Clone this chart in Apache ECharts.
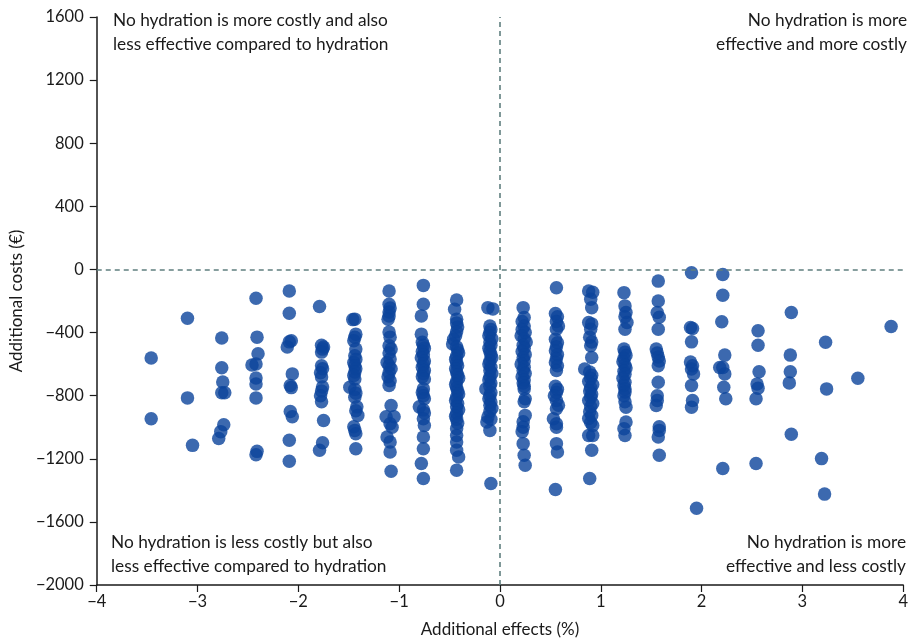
<!DOCTYPE html>
<html>
<head>
<meta charset="utf-8">
<script src="https://cdn.jsdelivr.net/npm/echarts@6/dist/echarts.min.js"></script>
<style>
html,body{margin:0;padding:0;background:#fff;}
#chart{width:911px;height:643px;}
</style>
</head>
<body>
<div id="chart"></div>
<script>
// Axis ticks
const xTicks = [-4, -3, -2, -1, 0, 1, 2, 3, 4];
const yTicks = [-2000, -1600, -1200, -800, -400, 0, 400, 800, 1200, 1600];

// Simulation points, grouped by column: [additional effect (%), additional cost (€)]
const col01 = [[-3.46,-561],[-3.46,-946]];
const col02 = [[-3.10,-309],[-3.10,-814],[-3.05,-1115]];
const col03 = [[-2.76,-435],[-2.76,-623],[-2.75,-714],[-2.76,-782],[-2.73,-782],[-2.74,-984],[-2.77,-1028],[-2.79,-1072]];
const col04 = [[-2.42,-183],[-2.41,-429],[-2.40,-534],[-2.42,-599],[-2.46,-605],[-2.42,-688],[-2.42,-726],[-2.42,-814],[-2.41,-1153],[-2.42,-1174]];
const col05 = [[-2.09,-137],[-2.09,-278],[-2.09,-459],[-2.07,-452],[-2.11,-492],[-2.06,-662],[-2.08,-736],[-2.07,-749],[-2.08,-900],[-2.06,-934],[-2.09,-1083],[-2.09,-1216]];
const col06 = [[-1.79,-235],[-1.77,-480],[-1.75,-492],[-1.76,-505],[-1.77,-524],[-1.77,-610],[-1.76,-630],[-1.78,-655],[-1.77,-681],[-1.76,-745],[-1.77,-770],[-1.78,-800],[-1.77,-839],[-1.75,-957],[-1.76,-1098],[-1.79,-1146]];
const col07 = [[-1.44,-315],[-1.46,-318],[-1.43,-410],[-1.44,-430],[-1.45,-452],[-1.43,-505],[-1.44,-547],[-1.43,-570],[-1.45,-590],[-1.44,-610],[-1.43,-630],[-1.44,-650],[-1.45,-672],[-1.44,-694],[-1.49,-747],[-1.44,-760],[-1.43,-785],[-1.44,-810],[-1.42,-871],[-1.43,-895],[-1.41,-925],[-1.45,-997],[-1.44,-1020],[-1.43,-1041],[-1.43,-1136]];
const col08 = [[-1.10,-137],[-1.10,-221],[-1.09,-245],[-1.10,-270],[-1.10,-295],[-1.11,-315],[-1.10,-397],[-1.09,-429],[-1.10,-484],[-1.08,-505],[-1.10,-530],[-1.09,-568],[-1.12,-590],[-1.10,-610],[-1.08,-630],[-1.10,-655],[-1.11,-680],[-1.09,-705],[-1.10,-736],[-1.08,-862],[-1.13,-934],[-1.05,-934],[-1.09,-978],[-1.07,-1000],[-1.12,-1062],[-1.09,-1094],[-1.09,-1157],[-1.08,-1279]];
const col09 = [[-0.76,-101],[-0.76,-221],[-0.78,-295],[-0.78,-410],[-0.77,-461],[-0.76,-480],[-0.75,-500],[-0.77,-520],[-0.76,-540],[-0.78,-560],[-0.75,-580],[-0.76,-600],[-0.77,-620],[-0.75,-640],[-0.76,-660],[-0.77,-680],[-0.75,-694],[-0.76,-757],[-0.77,-780],[-0.76,-800],[-0.75,-820],[-0.80,-871],[-0.76,-890],[-0.75,-910],[-0.76,-946],[-0.75,-989],[-0.76,-1062],[-0.76,-1136],[-0.78,-1230],[-0.76,-1325]];
const col10 = [[-0.43,-194],[-0.45,-252],[-0.43,-315],[-0.43,-340],[-0.42,-365],[-0.43,-395],[-0.44,-421],[-0.46,-442],[-0.47,-473],[-0.43,-490],[-0.42,-510],[-0.41,-530],[-0.43,-550],[-0.44,-570],[-0.43,-590],[-0.42,-610],[-0.44,-630],[-0.43,-650],[-0.42,-670],[-0.41,-690],[-0.43,-710],[-0.44,-730],[-0.43,-750],[-0.42,-770],[-0.41,-790],[-0.43,-810],[-0.44,-830],[-0.42,-850],[-0.43,-870],[-0.41,-890],[-0.43,-910],[-0.44,-930],[-0.43,-950],[-0.42,-975],[-0.43,-1009],[-0.43,-1052],[-0.43,-1094],[-0.43,-1146],[-0.41,-1188],[-0.43,-1272]];
const col11 = [[-0.12,-242],[-0.07,-250],[-0.10,-358],[-0.09,-380],[-0.10,-400],[-0.11,-420],[-0.08,-440],[-0.10,-460],[-0.09,-480],[-0.11,-500],[-0.10,-520],[-0.09,-540],[-0.08,-560],[-0.10,-580],[-0.11,-600],[-0.09,-620],[-0.10,-640],[-0.08,-660],[-0.10,-680],[-0.11,-700],[-0.09,-720],[-0.10,-740],[-0.14,-757],[-0.09,-780],[-0.10,-800],[-0.11,-820],[-0.09,-840],[-0.10,-860],[-0.08,-880],[-0.10,-900],[-0.12,-935],[-0.09,-950],[-0.13,-967],[-0.10,-1020],[-0.09,-1357]];
const col12 = [[0.23,-242],[0.24,-305],[0.22,-330],[0.24,-358],[0.22,-380],[0.25,-400],[0.21,-420],[0.24,-440],[0.26,-460],[0.23,-480],[0.24,-500],[0.22,-520],[0.25,-540],[0.23,-560],[0.24,-580],[0.21,-600],[0.24,-620],[0.23,-640],[0.25,-660],[0.22,-680],[0.24,-700],[0.23,-720],[0.24,-740],[0.24,-757],[0.25,-820],[0.24,-839],[0.25,-925],[0.23,-965],[0.23,-1000],[0.22,-1028],[0.23,-1104],[0.24,-1178],[0.25,-1241]];
const col13 = [[0.56,-116],[0.55,-280],[0.57,-300],[0.56,-330],[0.58,-358],[0.56,-379],[0.55,-442],[0.57,-465],[0.56,-490],[0.55,-515],[0.57,-540],[0.56,-565],[0.55,-590],[0.57,-610],[0.56,-640],[0.55,-740],[0.57,-760],[0.56,-780],[0.54,-800],[0.56,-830],[0.58,-860],[0.56,-883],[0.53,-946],[0.56,-978],[0.56,-1000],[0.56,-1104],[0.57,-1157],[0.55,-1395]];
const col14 = [[0.88,-137],[0.92,-145],[0.90,-189],[0.91,-242],[0.88,-336],[0.91,-345],[0.90,-379],[0.89,-429],[0.91,-460],[0.90,-484],[0.91,-558],[0.84,-631],[0.89,-650],[0.91,-670],[0.90,-690],[0.88,-710],[0.92,-730],[0.90,-750],[0.89,-770],[0.91,-790],[0.90,-810],[0.88,-830],[0.92,-850],[0.90,-870],[0.89,-902],[0.91,-925],[0.88,-945],[0.90,-970],[0.92,-989],[0.88,-1052],[0.92,-1052],[0.91,-1146],[0.89,-1325]];
const col15 = [[1.23,-147],[1.24,-231],[1.25,-273],[1.24,-300],[1.26,-336],[1.24,-379],[1.23,-505],[1.24,-525],[1.25,-545],[1.23,-565],[1.22,-585],[1.24,-605],[1.25,-625],[1.23,-645],[1.24,-665],[1.22,-690],[1.24,-715],[1.23,-736],[1.24,-757],[1.24,-776],[1.23,-800],[1.24,-839],[1.25,-873],[1.25,-967],[1.23,-1009],[1.24,-1052]];
const col16 = [[1.57,-74],[1.57,-200],[1.56,-273],[1.58,-303],[1.57,-379],[1.55,-505],[1.56,-530],[1.57,-555],[1.58,-580],[1.57,-610],[1.57,-715],[1.56,-800],[1.56,-830],[1.55,-862],[1.58,-997],[1.58,-1020],[1.57,-1062],[1.58,-1178]];
const col17 = [[1.90,-21],[1.89,-368],[1.91,-374],[1.90,-459],[1.89,-587],[1.91,-610],[1.90,-631],[1.92,-662],[1.90,-736],[1.91,-831],[1.90,-873],[1.95,-1514]];
const col18 = [[2.21,-32],[2.21,-164],[2.20,-332],[2.23,-543],[2.18,-621],[2.21,-621],[2.23,-662],[2.22,-747],[2.24,-820],[2.21,-1262]];
const col19 = [[2.56,-389],[2.56,-480],[2.57,-648],[2.55,-726],[2.56,-753],[2.54,-820],[2.54,-1230]];
const col20 = [[2.89,-273],[2.88,-543],[2.88,-648],[2.87,-719],[2.89,-1045]];
const col21 = [[3.23,-462],[3.24,-757],[3.19,-1199],[3.22,-1424]];
const col22 = [[3.55,-690]];
const col23 = [[3.88,-362]];

// Quadrant annotations
const labelTopLeft = 'No hydration is more costly and also\nless effective compared to hydration';
const labelTopRight = 'No hydration is more\neffective and more costly';
const labelBottomLeft = 'No hydration is less costly but also\nless effective compared to hydration';
const labelBottomRight = 'No hydration is more\neffective and less costly';
const xName = 'Additional effects (%)';
const yName = 'Additional costs (€)';

const points = [].concat(col01,col02,col03,col04,col05,col06,col07,col08,col09,col10,col11,col12,
  col13,col14,col15,col16,col17,col18,col19,col20,col21,col22,col23);

const FONT = 'Lato, "Open Sans", sans-serif';
const chart = echarts.init(document.getElementById('chart'), null, {renderer: 'canvas'});

const textStyle = {fill: '#1a1a1a', font: '17.3px ' + FONT, lineHeight: 24};
const fmt = v => (v < 0 ? '\u2212' + Math.abs(v) : String(v));

chart.setOption({
  animation: false,
  backgroundColor: '#ffffff',
  grid: {left: 95, right: 7, top: 17, bottom: 55, containLabel: false},
  xAxis: {
    type: 'value', min: xTicks[0], max: xTicks[xTicks.length - 1], interval: 1,
    name: xName, nameLocation: 'middle', nameGap: 36,
    nameTextStyle: {fontFamily: FONT, fontSize: 17, color: '#1a1a1a'},
    axisLine: {onZero: false, lineStyle: {color: '#1a1a1a', width: 1.5}},
    axisTick: {show: true, inside: false, length: 7, lineStyle: {color: '#1a1a1a', width: 1.2}},
    axisLabel: {fontFamily: FONT, fontSize: 16.5, color: '#1a1a1a', margin: 8, formatter: fmt},
    splitLine: {show: false}
  },
  yAxis: {
    type: 'value', min: yTicks[0], max: yTicks[yTicks.length - 1], interval: 400,
    name: yName, nameLocation: 'middle', nameGap: 64, nameRotate: 90,
    nameTextStyle: {fontFamily: FONT, fontSize: 17, color: '#1a1a1a'},
    axisLine: {onZero: false, lineStyle: {color: '#1a1a1a', width: 1.5}},
    axisTick: {show: true, inside: false, length: 7, lineStyle: {color: '#1a1a1a', width: 1.2}},
    axisLabel: {fontFamily: FONT, fontSize: 16.5, color: '#1a1a1a', margin: 13, formatter: fmt},
    splitLine: {show: false}
  },
  series: [{
    type: 'scatter',
    data: points,
    symbol: 'circle',
    symbolSize: 13.5,
    itemStyle: {color: '#0b449b', opacity: 0.8},
    markLine: {
      silent: true,
      symbol: ['none', 'none'],
      label: {show: false},
      lineStyle: {color: '#5f7f7f', type: [5, 4], width: 1.6},
      data: [{xAxis: 0}, {yAxis: 0}]
    },
    z: 2
  }],
  graphic: [
    {type: 'text', left: 113, top: 8, style: Object.assign({text: labelTopLeft, textAlign: 'left'}, textStyle)},
    {type: 'text', right: 4, top: 8, style: Object.assign({text: labelTopRight, textAlign: 'right'}, textStyle)},
    {type: 'text', left: 111, top: 530, style: Object.assign({text: labelBottomLeft, textAlign: 'left'}, textStyle)},
    {type: 'text', right: 5, top: 530, style: Object.assign({text: labelBottomRight, textAlign: 'right'}, textStyle)}
  ]
});
</script>
</body>
</html>
